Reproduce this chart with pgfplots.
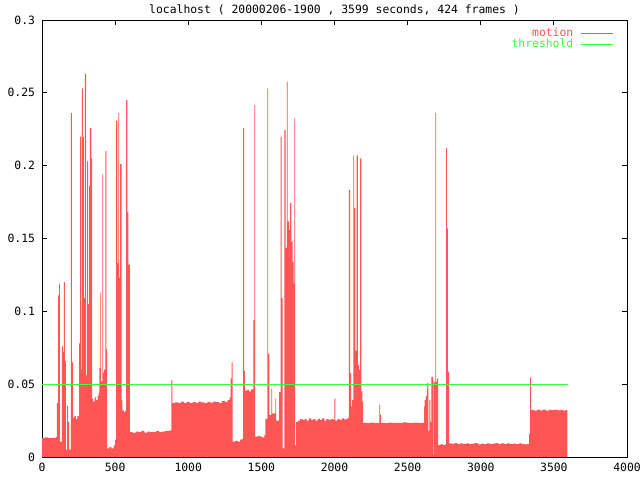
\documentclass[border=0pt]{standalone}
\usepackage{fontspec}
\setmainfont{DejaVu Sans Mono}
\usepackage{pgfplots}
\pgfplotsset{compat=1.18}
\definecolor{motionred}{RGB}{255,85,85}
\definecolor{thgreen}{RGB}{60,255,60}
\begin{document}
\fontsize{11.4bp}{13bp}\selectfont
\begin{tikzpicture}[font=\fontsize{11.4bp}{13bp}\selectfont]
\path[use as bounding box, fill=white] (-42bp,-23bp) rectangle (598bp,457bp);
\begin{axis}[
  width=585bp, height=437bp, scale only axis,
  xmin=0, xmax=4000, ymin=0, ymax=0.3,
  xtick={0,500,1000,1500,2000,2500,3000,3500,4000},
  ytick={0,0.05,0.1,0.15,0.2,0.25,0.3},
  /pgf/number format/assume math mode=true,
  scaled y ticks=false,
  yticklabel style={/pgf/number format/fixed, /pgf/number format/precision=2, xshift=-3bp},
  xticklabel style={/pgf/number format/1000 sep={}, yshift=-2bp},
  axis line style={line width=0.8bp},
  tick style={line width=0.8bp, black},
  major tick length=5bp,
  title={localhost ( 20000206-1900 , 3599 seconds, 424 frames )},
  every axis title/.style={at={(0.5,1)}, anchor=center, yshift=10bp, inner sep=0pt},
  legend style={at={(0.978,0.982)}, anchor=north east, draw=none, fill=none,
    inner sep=0pt, row sep=0pt, column sep=0pt,
    nodes={inner sep=0.5bp, text height=8bp, text depth=2bp}},
  legend plot pos=right,
  legend cell align=right,
]
\addplot[const plot, fill=motionred, draw=none,
  legend image code/.code={\path (0bp,0bp); \draw[draw=motionred, line width=1.2bp] (7bp,0bp) -- (39bp,0bp);}]
coordinates {
(0,0.013)(20,0.0135)(40,0.013)(60,0.0132)(80,0.013)(95,0.0137)
(101,0.037)(110,0.111)(117,0.119)(123,0.0105)(136,0.076)(143,0.072)(150,0.120)(157,0.066)
(164,0.005)(171,0.035)(178,0.024)(185,0.005)(198,0.236)(205,0.065)(212,0.027)(222,0.028)
(232,0.026)(242,0.028)(253,0.078)(260,0.220)(267,0.060)(273,0.253)(280,0.220)(287,0.109)
(294,0.263)(301,0.056)(309,0.203)(315,0.105)(323,0.186)(328,0.226)(337,0.205)(342,0.040)
(350,0.038)(360,0.041)(370,0.039)(380,0.042)(388,0.044)(393,0.061)(399,0.113)(403,0.052)
(412,0.194)(418,0.058)(425,0.060)(434,0.210)(441,0.074)(445,0.006)(460,0.007)(475,0.006)
(490,0.008)(500,0.012)(506,0.231)(515,0.133)(522,0.236)(528,0.123)(535,0.201)(545,0.039)
(550,0.032)(560,0.031)(570,0.032)(576,0.245)(583,0.168)(590,0.132)(600,0.017)
(620,0.0165)(640,0.0175)(660,0.017)(680,0.018)(700,0.0168)(720,0.0175)(740,0.017)
(760,0.0172)(780,0.0178)(800,0.017)(820,0.0175)(840,0.0178)(860,0.018)(875,0.0182)
(884,0.053)(891,0.037)(910,0.0375)(930,0.037)(950,0.038)(970,0.0372)(990,0.0378)
(1010,0.037)(1030,0.0376)(1050,0.0372)(1070,0.038)(1090,0.0375)(1110,0.037)(1130,0.0378)
(1150,0.0374)(1170,0.038)(1190,0.0376)(1210,0.0372)(1230,0.0385)(1250,0.0378)(1270,0.039)
(1283,0.041)(1290,0.054)(1297,0.065)(1304,0.0105)(1320,0.011)(1340,0.0105)(1355,0.012)
(1366,0.0125)(1376,0.226)(1382,0.059)(1388,0.0455)(1400,0.046)(1415,0.045)(1430,0.0465)
(1445,0.094)(1452,0.2416)(1458,0.014)(1475,0.0145)(1490,0.014)(1505,0.0135)(1520,0.015)
(1527,0.026)(1541,0.253)(1547,0.071)(1554,0.029)(1568,0.047)(1573,0.030)(1595,0.040)
(1600,0.025)(1621,0.0446)(1632,0.220)(1639,0.109)(1646,0.006)(1657,0.2245)(1666,0.1435)
(1675,0.2577)(1680,0.1617)(1689,0.156)(1696,0.1744)(1705,0.1478)(1714,0.134)(1721,0.119)
(1725,0.2325)(1731,0.008)(1737,0.024)(1750,0.025)(1765,0.026)(1780,0.0255)(1795,0.026)
(1810,0.025)(1825,0.0265)(1840,0.0255)(1855,0.026)(1870,0.025)(1885,0.0262)(1900,0.0255)
(1915,0.0265)(1930,0.025)(1945,0.026)(1960,0.0255)(1975,0.026)(1992,0.0255)(1999,0.040)
(2006,0.025)(2020,0.026)(2035,0.0255)(2050,0.0265)(2065,0.0258)(2080,0.0262)(2092,0.027)
(2099,0.1833)(2106,0.0575)(2113,0.0345)(2120,0.039)(2129,0.207)(2135,0.171)(2142,0.073)
(2152,0.207)(2159,0.063)(2166,0.060)(2176,0.205)(2183,0.045)(2190,0.038)(2195,0.0235)
(2220,0.0232)(2245,0.0236)(2270,0.0234)(2295,0.0235)(2306,0.0357)(2312,0.029)(2318,0.0235)
(2345,0.0233)(2370,0.0236)(2395,0.0234)(2420,0.0235)(2445,0.0233)(2470,0.0237)(2495,0.0235)
(2520,0.0234)(2545,0.0236)(2570,0.0235)(2595,0.0234)(2612,0.0345)(2617,0.039)(2624,0.042)
(2631,0.047)(2635,0.051)(2642,0.018)(2648,0.039)(2655,0.024)(2662,0.055)(2672,0.0014)
(2676,0.052)(2683,0.051)(2689,0.2364)(2695,0.052)(2701,0.054)(2708,0.0082)(2725,0.0088)
(2740,0.0082)(2755,0.0086)(2763,0.212)(2769,0.157)(2776,0.0586)(2783,0.0094)(2800,0.009)
(2820,0.0095)(2840,0.0088)(2860,0.0093)(2880,0.0089)(2900,0.0094)(2920,0.0088)(2940,0.0092)
(2960,0.0095)(2980,0.0087)(3000,0.0092)(3020,0.0089)(3040,0.0094)(3060,0.0088)(3080,0.0091)
(3100,0.0095)(3120,0.0089)(3140,0.0093)(3160,0.0088)(3180,0.0094)(3200,0.0089)(3220,0.0092)
(3240,0.0088)(3260,0.0093)(3280,0.009)(3300,0.0086)(3315,0.009)(3330,0.016)(3337,0.0547)
(3344,0.0323)(3365,0.0318)(3385,0.0325)(3405,0.032)(3425,0.0326)(3445,0.0319)(3465,0.0324)
(3485,0.0321)(3505,0.0326)(3525,0.032)(3545,0.0324)(3565,0.0318)(3580,0.0322)(3592,0.032)
} \closedcycle;
\addplot[thgreen, line width=1bp,
  legend image code/.code={\path (0bp,0bp); \draw[draw=thgreen, line width=1.2bp] (7bp,0bp) -- (39bp,0bp);}]
coordinates {(0,0.05) (3599,0.05)};
\legend{\textcolor{motionred}{motion}, \textcolor{thgreen}{threshold}}
\end{axis}
\end{tikzpicture}
\end{document}
